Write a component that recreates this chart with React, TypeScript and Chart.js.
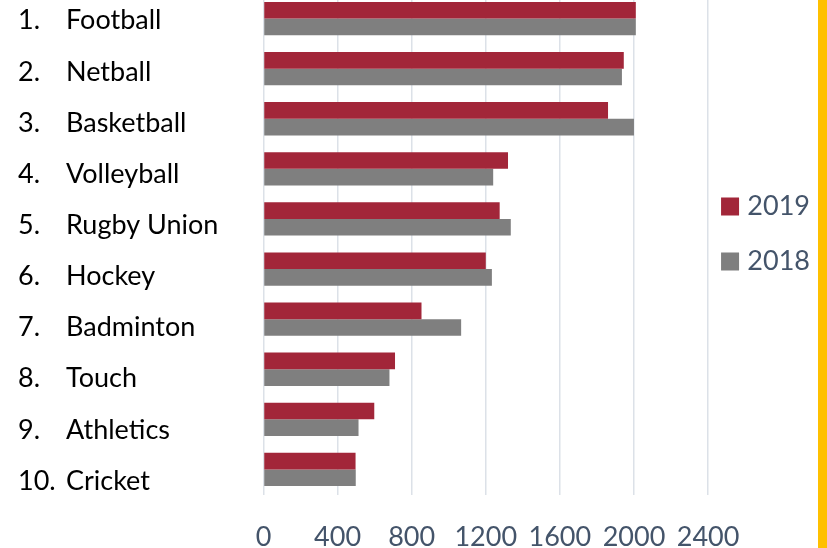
import { useEffect, useRef } from 'react';
import { Chart, registerables } from 'chart.js';

Chart.register(...registerables);

const ranks = ['1.', '2.', '3.', '4.', '5.', '6.', '7.', '8.', '9.', '10.'];
const sports = ['Football', 'Netball', 'Basketball', 'Volleyball', 'Rugby Union', 'Hockey', 'Badminton', 'Touch', 'Athletics', 'Cricket'];
const values2019 = [2010, 1945, 1860, 1320, 1275, 1200, 853, 710, 598, 497];
const values2018 = [2010, 1935, 2000, 1240, 1335, 1233, 1067, 680, 513, 498];
const seriesLabels = ['2019', '2018'];
const xMin = 0;
const xMax = 2400;
const xStep = 400;

const RED = '#A22639';
const GREY = '#7F7F7F';
const TICK_COLOR = '#44546A';
const FONT = 'Lato, "Open Sans", sans-serif';

// The row labels (rank + name) sit on a slightly taller band than the bars.
const labelRowsPlugin = {
  id: 'labelRows',
  afterLayout(chart: any) {
    const area = chart.chartArea;
    for (const id of ['yNum', 'yName']) {
      const s = chart.scales[id];
      if (!s) continue;
      s.top = area.top + 1.6;
      s.bottom = area.bottom + 12.1;
      s.height = s.bottom - s.top;
      s.configure();
    }
  },
};

export default function App() {
  const canvasRef = useRef<HTMLCanvasElement | null>(null);

  useEffect(() => {
    const canvas = canvasRef.current;
    if (!canvas) return;
    const labelTicks = { crossAlign: 'far', color: '#000000', font: { family: FONT, size: 27 }, padding: 0, autoSkip: false };
    const chart = new Chart(canvas, {
      type: 'bar',
      data: {
        labels: sports,
        datasets: [
          { label: seriesLabels[0], data: values2019, backgroundColor: RED, borderWidth: 0, yAxisID: 'y', categoryPercentage: 0.665, barPercentage: 1 },
          { label: seriesLabels[1], data: values2018, backgroundColor: GREY, borderWidth: 0, yAxisID: 'y', categoryPercentage: 0.665, barPercentage: 1 },
        ],
      },
      options: {
        indexAxis: 'y',
        animation: false,
        responsive: true,
        maintainAspectRatio: false,
        layout: { padding: { left: 18, right: 0, top: 0.5, bottom: 0 } },
        scales: {
          x: {
            type: 'linear',
            min: xMin,
            max: xMax,
            ticks: {
              stepSize: xStep,
              color: TICK_COLOR,
              font: { family: FONT, size: 27 },
              padding: 27,
              maxRotation: 0,
              minRotation: 0,
              autoSkip: false,
              callback: (v: any) => String(v),
            },
            grid: { color: '#DCE1E8', lineWidth: 1.5, drawTicks: false },
            border: { display: false },
            afterFit: (s: any) => { s.height = 54.5; s.paddingLeft = 0; s.paddingRight = 0; },
          },
          y: {
            type: 'category',
            axis: 'y',
            position: 'left',
            weight: 0,
            display: false,
          },
          yName: {
            type: 'category',
            axis: 'y',
            labels: sports,
            offset: true,
            position: 'left',
            weight: 1,
            grid: { display: false, drawTicks: false },
            border: { display: false },
            ticks: labelTicks,
            afterFit: (s: any) => { s.width = 197.5; s.paddingTop = 0; s.paddingBottom = 0; },
          },
          yNum: {
            type: 'category',
            axis: 'y',
            labels: ranks,
            offset: true,
            position: 'left',
            weight: 2,
            grid: { display: false, drawTicks: false },
            border: { display: false },
            ticks: labelTicks,
            afterFit: (s: any) => { s.width = 48; s.paddingTop = 0; s.paddingBottom = 0; },
          },
        } as any,
        plugins: {
          tooltip: { enabled: false },
          legend: {
            position: 'right',
            align: 'start',
            title: { display: true, text: '', font: { size: 10 }, padding: { top: 169.3, bottom: 0 } },
            labels: {
              usePointStyle: true,
              pointStyle: 'rect',
              boxWidth: 7.6,
              boxHeight: 18,
              padding: 18.2,
              color: TICK_COLOR,
              font: { family: FONT, size: 27, lineHeight: 36.8 / 27 },
              generateLabels: (c: any) =>
                (Chart.defaults.plugins.legend.labels as any).generateLabels(c).map((l: any) => ({ ...l, text: [l.text] })),
            },
          },
        },
      } as any,
      plugins: [labelRowsPlugin],
    });
    return () => chart.destroy();
  }, []);

  return (
    <>
      <div style={{ position: 'absolute', left: 0, top: -7, width: 820, height: 556 }}>
        <canvas ref={canvasRef} />
      </div>
      <div style={{ position: 'absolute', left: 818, top: 0, width: 9, height: 548, background: '#FFC000' }} />
    </>
  );
}
